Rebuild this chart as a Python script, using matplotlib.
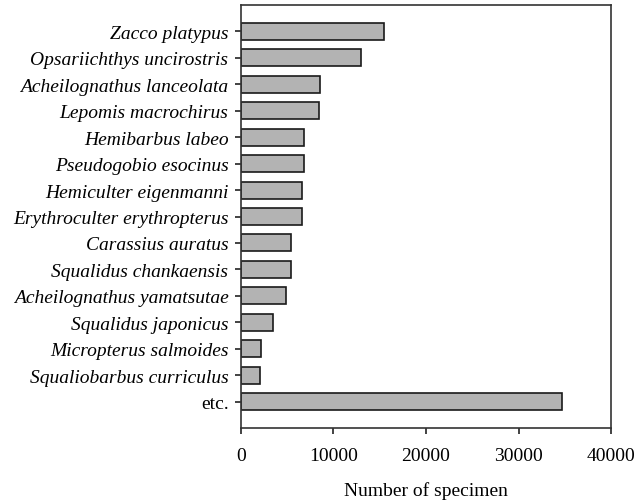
import matplotlib
matplotlib.use("Agg")
import matplotlib.pyplot as plt

species = [
    "Zacco platypus",
    "Opsariichthys uncirostris",
    "Acheilognathus lanceolata",
    "Lepomis macrochirus",
    "Hemibarbus labeo",
    "Pseudogobio esocinus",
    "Hemiculter eigenmanni",
    "Erythroculter erythropterus",
    "Carassius auratus",
    "Squalidus chankaensis",
    "Acheilognathus yamatsutae",
    "Squalidus japonicus",
    "Micropterus salmoides",
    "Squaliobarbus curriculus",
    "etc.",
]
counts = [15500, 12950, 8500, 8430, 6810, 6800, 6630, 6600,
          5440, 5370, 4900, 3460, 2200, 2090, 34740]
x_ticks = [0, 10000, 20000, 30000, 40000]

plt.rcParams["font.family"] = ["Liberation Serif", "DejaVu Serif"]

fig = plt.figure(figsize=(6.38, 5.02), dpi=100)
ax = fig.add_axes([0.3777, 0.1454, 0.58, 0.8426])

pos = list(range(len(species)))
ax.barh(pos, counts, height=0.64, color="#b3b3b3", edgecolor="#1a1a1a",
        linewidth=1.2)

ax.set_ylim(len(species), -1)
ax.set_xlim(0, 40000)
ax.set_xticks(x_ticks)
ax.set_xticklabels([str(t) for t in x_ticks], fontsize=14)
ax.set_yticks(pos)
ax.set_yticklabels(species, fontsize=14)
for lbl, name in zip(ax.get_yticklabels(), species):
    if name != "etc.":
        lbl.set_fontstyle("italic")

ax.tick_params(axis="both", direction="out", length=4, width=1.2, color="#222222")
ax.tick_params(axis="x", pad=10)
ax.tick_params(axis="y", pad=5)
for s in ax.spines.values():
    s.set_linewidth(1.2)
    s.set_color("#333333")

ax.set_xlabel("Number of specimen", fontsize=14, labelpad=12)

fig.savefig("out.png", dpi=100)
